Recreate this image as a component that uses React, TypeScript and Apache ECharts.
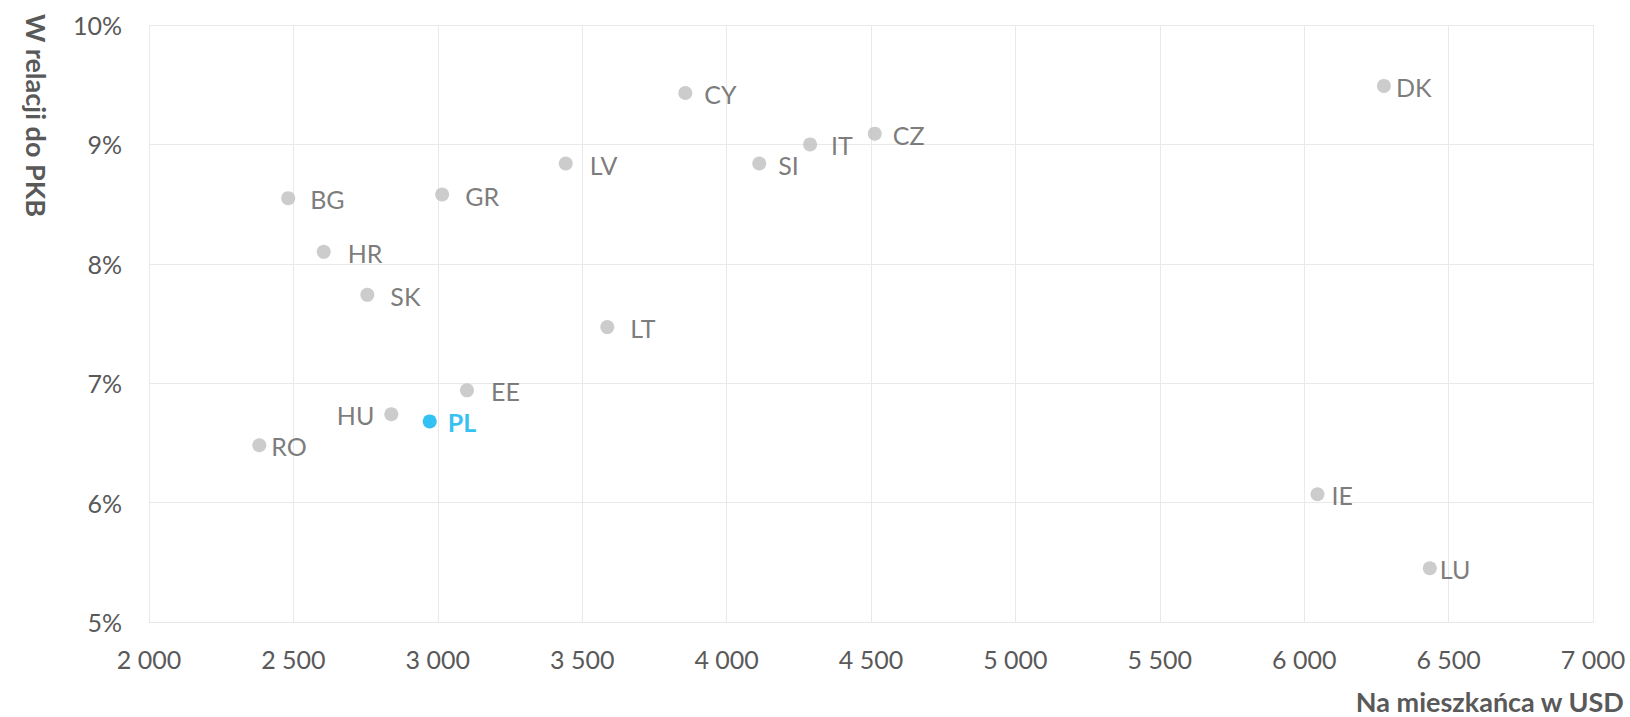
import React, { useEffect, useRef } from "react";
import * as echarts from "echarts";

const countries = ["BG", "HR", "SK", "GR", "LV", "CY", "SI", "IT", "CZ", "LT", "EE", "HU", "PL", "RO", "DK", "IE", "LU"];
const perCapitaUsd = [2482, 2605, 2756, 3015, 3443, 3857, 4113, 4289, 4513, 3587, 3101, 2839, 2972, 2382, 6276, 6046, 6435];
const shareOfGdp = [8.55, 8.1, 7.74, 8.58, 8.84, 9.43, 8.84, 9.0, 9.09, 7.47, 6.94, 6.74, 6.68, 6.48, 9.49, 6.07, 5.45];
const xTicks = [2000, 7000, 500];
const yTicks = [5, 10, 1];
const highlight = "PL";
const xTitle = "Na mieszkańca w USD";
const yTitle = "W relacji do PKB";

// label styling (distance from marker, side)
const labelDistance: Record<string, number> = {
  BG: 15, HR: 17, SK: 16, GR: 16, LV: 17, CY: 12, SI: 12, IT: 14, CZ: 11,
  LT: 16, EE: 17, HU: 10, PL: 11, RO: 5, DK: 5, IE: 7, LU: 3,
};
const labelLeft = ["HU"];

const FONT = "Lato, 'Open Sans', sans-serif";
const GREY = "#595959";

function fmtThousands(v: number) {
  const s = String(Math.round(v));
  return s.replace(/\B(?=(\d{3})+(?!\d))/g, " ");
}

export default function App() {
  const ref = useRef<HTMLDivElement>(null);
  useEffect(() => {
    if (!ref.current) return;
    const chart = echarts.init(ref.current, null, { renderer: "svg" });
    const data = countries.map((c, i) => {
      const isHi = c === highlight;
      return {
        name: c,
        value: [perCapitaUsd[i], shareOfGdp[i]],
        itemStyle: { color: isHi ? "#00b0f0" : "#bfbfbf" },
        label: {
          show: true,
          formatter: c,
          position: labelLeft.includes(c) ? "left" : "right",
          distance: labelDistance[c] ?? 10,
          color: isHi ? "#00b0f0" : GREY,
          fontWeight: isHi ? "bold" : "normal",
          fontSize: 25,
          fontFamily: FONT,
          offset: [0, 1],
        },
      };
    });
    chart.setOption({
      animation: false,
      backgroundColor: "#ffffff",
      grid: { left: 149, right: 37, top: 25, bottom: 95, containLabel: false },
      xAxis: {
        type: "value",
        min: xTicks[0],
        max: xTicks[1],
        interval: xTicks[2],
        axisLine: { show: true, lineStyle: { color: "#e6e6e6", width: 1 } },
        axisTick: { show: false },
        splitLine: { show: true, lineStyle: { color: "#e9e9e9", width: 1 } },
        axisLabel: {
          color: GREY,
          fontSize: 25,
          fontFamily: FONT,
          margin: 24,
          formatter: (v: number) => fmtThousands(v),
        },
      },
      yAxis: {
        type: "value",
        min: yTicks[0],
        max: yTicks[1],
        interval: yTicks[2],
        axisLine: { show: false },
        axisTick: { show: false },
        splitLine: { show: true, lineStyle: { color: "#e9e9e9", width: 1 } },
        axisLabel: {
          color: GREY,
          fontSize: 25,
          fontFamily: FONT,
          margin: 27,
          formatter: (v: number) => `${v}%`,
        },
      },
      graphic: [
        {
          type: "text",
          right: 5,
          top: 688,
          style: {
            text: xTitle,
            fill: GREY,
            font: `bold 27px ${FONT}`,
          },
        },
        {
          type: "text",
          x: 36,
          y: 14,
          rotation: -Math.PI / 2,
          style: {
            text: yTitle,
            fill: GREY,
            font: `bold 27px ${FONT}`,
            align: "left",
            verticalAlign: "middle",
          },
        },
      ],
      series: [
        {
          type: "scatter",
          symbol: "circle",
          symbolSize: 14,
          data,
        },
      ],
    });
    return () => chart.dispose();
  }, []);
  return (
    <div
      ref={ref}
      style={{ position: "fixed", left: 0, top: 0, width: 1630, height: 717, background: "#fff" }}
    />
  );
}
